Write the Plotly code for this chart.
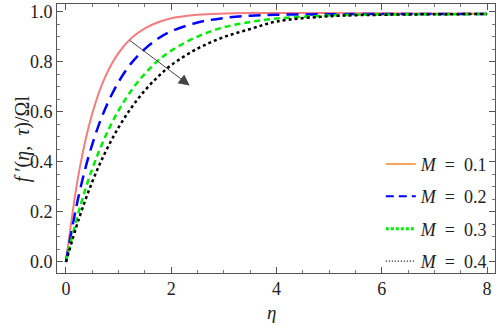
import plotly.graph_objects as go

eta = [0, 0.25, 0.5, 0.75, 1.0, 1.25, 1.5, 1.75, 2.0, 2.5, 3.0, 3.5, 4.0, 5.0, 6.0, 7.0, 8.0]
f_m01 = [0, 0.362, 0.593, 0.741, 0.835, 0.895, 0.933, 0.957, 0.973, 0.987, 0.992, 0.994, 0.994, 0.994, 0.993, 0.992, 0.991]
f_m02 = [0, 0.272, 0.470, 0.614, 0.719, 0.796, 0.851, 0.892, 0.921, 0.956, 0.974, 0.983, 0.987, 0.989, 0.990, 0.990, 0.990]
f_m03 = [0, 0.207, 0.372, 0.502, 0.605, 0.687, 0.752, 0.804, 0.844, 0.900, 0.937, 0.958, 0.972, 0.984, 0.988, 0.989, 0.990]
f_m04 = [0, 0.175, 0.320, 0.439, 0.537, 0.618, 0.685, 0.740, 0.786, 0.852, 0.898, 0.930, 0.960, 0.981, 0.987, 0.989, 0.990]

m_values = ["0.1", "0.2", "0.3", "0.4"]
series = [f_m01, f_m02, f_m03, f_m04]
curve_styles = [
    dict(color="#F47C7C", width=2, dash="solid"),
    dict(color="#0000FF", width=2.5, dash="12px,7px"),
    dict(color="#00EE00", width=2.5, dash="6px,4px"),
    dict(color="#000000", width=2.5, dash="3px,3px"),
]
legend_styles = [
    dict(color="#F7A55E", width=2, dash="solid"),
    dict(color="#0000FF", width=2, dash="8px,5px"),
    dict(color="#00EE00", width=3, dash="3px,2px"),
    dict(color="#000000", width=1.2, dash="1px,2px"),
]

SERIF = "Liberation Serif"

fig = go.Figure()
for y, st in zip(series, curve_styles):
    fig.add_trace(go.Scatter(x=eta, y=y, mode="lines", line=dict(shape="spline", **st),
                             showlegend=False, hoverinfo="skip"))
for i, (mv, st) in enumerate(zip(m_values, legend_styles)):
    fig.add_trace(go.Scatter(x=[None], y=[None], mode="lines", line=st,
                             name="<i>M</i>\u2002=\u2002" + mv, legendgroup=str(i)))

fig.add_annotation(x=2.35, y=0.705, ax=1.18, ay=0.89, xref="x", yref="y", axref="x", ayref="y",
                   showarrow=True, arrowhead=2, arrowsize=2.2, arrowwidth=1, arrowcolor="#444444", text="")

# axis titles
fig.add_annotation(text="<i>η</i>", xref="paper", yref="paper", x=0.49, y=-0.148,
                   xanchor="center", yanchor="middle", showarrow=False,
                   font=dict(family=SERIF, size=19, color="#222222"))
fig.add_annotation(text="<i>f</i> ′(<i>η</i>,\u2002<i>τ</i>)/Ωl", xref="paper", yref="paper",
                   x=-0.078, y=0.5, xanchor="center", yanchor="middle", textangle=-90, showarrow=False,
                   font=dict(family=SERIF, size=20, color="#222222"))

axis_common = dict(showline=True, linecolor="#555555", linewidth=1, mirror="allticks",
                   ticks="inside", ticklen=6, tickcolor="#555555", showgrid=False, zeroline=False,
                   ticklabeloverflow="allow",
                   tickfont=dict(family=SERIF, size=18, color="#222222"))

fig.update_xaxes(range=[-0.17, 8.15], tickvals=[0, 2, 4, 6, 8], ticklabelstandoff=-1,
                 minor=dict(dtick=0.5, tick0=0, ticks="inside", ticklen=3, tickcolor="#777777"),
                 **axis_common)
fig.update_yaxes(range=[-0.044, 1.03], tickvals=[0, 0.2, 0.4, 0.6, 0.8, 1.0], tickformat=".1f",
                 minor=dict(dtick=0.05, tick0=0, ticks="inside", ticklen=3, tickcolor="#777777"),
                 **axis_common)

fig.update_layout(
    width=498, height=328,
    margin=dict(l=57, r=2, t=2, b=55),
    plot_bgcolor="white", paper_bgcolor="white",
    legend=dict(x=0.995, y=-0.025, xanchor="right", yanchor="bottom", bgcolor="rgba(0,0,0,0)",
                font=dict(family=SERIF, size=18, color="#222222"), tracegroupgap=6,
                itemwidth=30),
)

fig.write_html("out.html", config={"displayModeBar": False},
               post_script="document.body.style.margin='0';")
